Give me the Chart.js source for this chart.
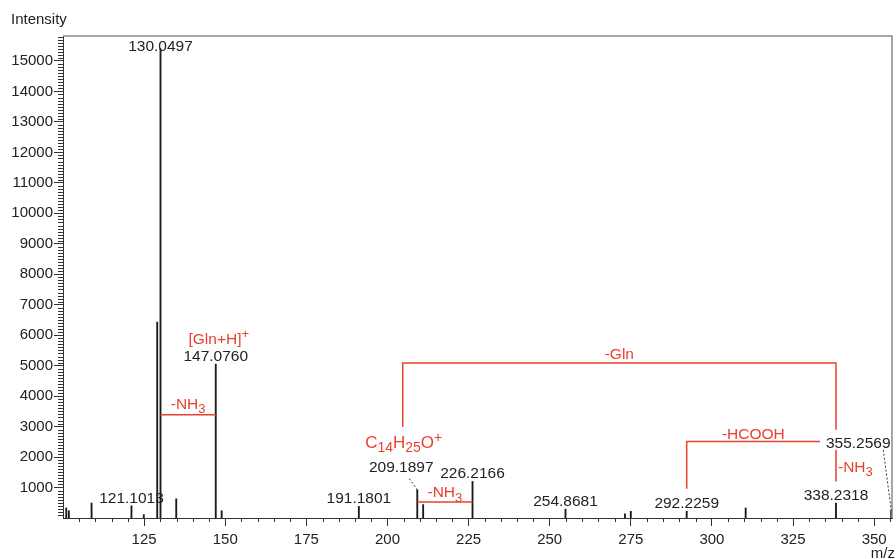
<!DOCTYPE html>
<html>
<head>
<meta charset="utf-8">
<title>MS/MS spectrum</title>
<script src="https://cdn.jsdelivr.net/npm/chart.js@4.4.0/dist/chart.umd.min.js"></script>
<style>
  html, body { margin: 0; padding: 0; background: #ffffff; }
  #wrap { width: 896px; height: 559px; }
</style>
</head>
<body>
<div id="wrap"><canvas id="spectrum" width="896" height="559"></canvas></div>
<script>
// Centroided peak list: m/z and intensity (counts)
const mzValues = [101.0, 101.8, 108.8, 121.1013, 124.9, 129.04, 130.0497, 134.9, 147.0760, 148.9,
                  191.1801, 209.1897, 211.0, 226.2166, 254.8681, 273.2, 275.0, 292.2259, 310.4,
                  338.2318, 355.2569];
const intensities = [330, 240, 490, 400, 110, 6430, 15410, 630, 5050, 240,
                     380, 930, 440, 1200, 290, 140, 220, 220, 330,
                     490, 270];

// Peaks that carry an m/z label
const labeledPeaks = [130.0497, 147.0760, 121.1013, 191.1801, 209.1897, 226.2166,
                      254.8681, 292.2259, 338.2318, 355.2569];

// Axis tick labels
const xTickLabels = [125, 150, 175, 200, 225, 250, 275, 300, 325, 350];
const yTickLabels = [1000, 2000, 3000, 4000, 5000, 6000, 7000, 8000, 9000, 10000,
                     11000, 12000, 13000, 14000, 15000];

const FONT = "'Liberation Sans', Arial, Helvetica, sans-serif";
const RED = '#e8412e';
const INK = '#1a1a1a';
const AXIS = '#333333';

function intensityOf(mz) {
  return intensities[mzValues.indexOf(mz)];
}

// Draws text made of normal / subscript / superscript runs
function richText(ctx, runs, x, y, align, size, subSize) {
  const main = size || 15.5;
  const small = subSize || 13;
  let width = 0;
  runs.forEach(r => {
    ctx.font = (r[1] ? small : main) + 'px ' + FONT;
    width += ctx.measureText(r[0]).width;
  });
  let cx = align === 'center' ? x - width / 2 : (align === 'right' ? x - width : x);
  ctx.textAlign = 'left';
  ctx.textBaseline = 'alphabetic';
  runs.forEach(r => {
    ctx.font = (r[1] ? small : main) + 'px ' + FONT;
    let dy = 0;
    if (r[1] === 'sub') dy = 4.5;
    if (r[1] === 'sup') dy = -6;
    ctx.fillText(r[0], cx, y + dy);
    cx += ctx.measureText(r[0]).width;
  });
}

function polyline(ctx, pts) {
  ctx.beginPath();
  pts.forEach((p, i) => i ? ctx.lineTo(p[0], p[1]) : ctx.moveTo(p[0], p[1]));
  ctx.stroke();
}

const spectrumDecor = {
  id: 'spectrumDecor',
  afterDatasetsDraw(chart) {
    const ctx = chart.ctx;
    const xs = chart.scales.x, ys = chart.scales.y;
    const area = chart.chartArea;
    const P = (mz, h) => [xs.getPixelForValue(mz), ys.getPixelForValue(h)];
    ctx.save();

    // frame: top and right edges
    ctx.strokeStyle = '#8a8a8a';
    ctx.lineWidth = 1.5;
    polyline(ctx, [[area.left, area.top], [area.right, area.top], [area.right, area.bottom]]);

    // minor ticks
    ctx.strokeStyle = AXIS;
    ctx.lineWidth = 1;
    for (let v = 105; v < xs.max; v += 5) {
      if (v % 25 === 0) continue;
      const px = Math.round(xs.getPixelForValue(v)) + 0.5;
      polyline(ctx, [[px, area.bottom], [px, area.bottom + 4]]);
    }
    for (let v = 100; v < ys.max; v += 100) {
      if (v % 1000 === 0) continue;
      const py = Math.round(ys.getPixelForValue(v)) + 0.5;
      polyline(ctx, [[area.left - 5, py], [area.left, py]]);
    }

    // axis titles
    ctx.fillStyle = '#222';
    ctx.font = '15px ' + FONT;
    ctx.textAlign = 'left';
    ctx.textBaseline = 'alphabetic';
    ctx.fillText('Intensity', 11, 24);
    ctx.textAlign = 'right';
    ctx.fillText('m/z', 895, 558);

    // peak m/z labels
    const labelShift = {
      '130.0497': { dx: 0, dy: 3 },
      '209.1897': { dx: -16, dy: -18, leader: [-8, 7] },
      '355.2569': { dx: -33, dy: -62, leader: [-8, 2] }
    };
    const labelBase = {};
    labeledPeaks.forEach(mz => {
      const [px, py] = P(mz, intensityOf(mz));
      const txt = mz.toFixed(4);
      const s = labelShift[txt] || { dx: 0, dy: -3 };
      const lx = px + s.dx, ly = py + s.dy;
      ctx.fillStyle = '#222';
      ctx.font = '15.5px ' + FONT;
      ctx.textAlign = 'center';
      ctx.textBaseline = 'alphabetic';
      ctx.fillText(txt, lx, ly);
      labelBase[txt] = [lx, ly];
      if (s.leader) {
        ctx.strokeStyle = '#333';
        ctx.lineWidth = 1;
        ctx.setLineDash([2, 2]);
        polyline(ctx, [[px + s.leader[0], ly + s.leader[1]], [px, py]]);
        ctx.setLineDash([]);
      }
    });

    // fragment annotations
    ctx.strokeStyle = RED;
    ctx.fillStyle = RED;
    ctx.lineWidth = 1.5;

    // [Gln+H]+ over the protonated glutamine peak
    const gq = labelBase['147.0760'];
    richText(ctx, [['[Gln+H]'], ['+', 'sup']], gq[0] + 3, gq[1] - 17, 'center');

    // -NH3 : 147.0760 -> 130.0497
    let a = P(130.0497, 3390), b = P(147.0760, 3390);
    polyline(ctx, [a, b]);
    richText(ctx, [['-NH'], ['3', 'sub']], (a[0] + b[0]) / 2, a[1] - 6, 'center');

    // -Gln : 338.2318 -> C14H25O+
    const g1 = P(204.7, 2990), g2 = P(204.7, 5090), g3 = P(338.2318, 5090), g4 = P(338.2318, 2900);
    polyline(ctx, [g1, g2, g3, g4]);
    richText(ctx, [['-Gln']], (g2[0] + g3[0]) / 2, g2[1] - 4, 'center');
    richText(ctx, [['C'], ['14', 'sub'], ['H'], ['25', 'sub'], ['O'], ['+', 'sup']],
             g1[0] + 1, g1[1] + 21, 'center', 17, 14);

    // -HCOOH : 355.2569 -> 292.2259
    const h1 = P(292.2259, 960), h2 = P(292.2259, 2510), h3 = P(333.3, 2510);
    polyline(ctx, [h1, h2, h3]);
    richText(ctx, [['-HCOOH']], (h2[0] + h3[0]) / 2, h2[1] - 3, 'center');

    // -NH3 : 355.2569 -> 338.2318
    const n1 = P(338.2318, 2240), n2 = P(338.2318, 1200);
    polyline(ctx, [n1, n2]);
    richText(ctx, [['-NH'], ['3', 'sub']], n1[0] + 2, (n1[1] + n2[1]) / 2 + 6, 'left');

    // -NH3 : 226.2166 -> 209.1897
    a = P(209.1897, 525); b = P(226.2166, 525);
    polyline(ctx, [a, b]);
    richText(ctx, [['-NH'], ['3', 'sub']], (a[0] + b[0]) / 2, a[1] - 5, 'center');

    ctx.restore();
  }
};

new Chart(document.getElementById('spectrum'), {
  type: 'bar',
  data: {
    datasets: [{
      data: mzValues.map((m, i) => ({ x: m, y: intensities[i] })),
      backgroundColor: INK,
      borderWidth: 0,
      barThickness: 1.2
    }]
  },
  options: {
    responsive: false,
    animation: false,
    devicePixelRatio: 1,
    layout: { padding: { top: 36, right: 4, left: 0, bottom: 0 } },
    plugins: { legend: { display: false }, tooltip: { enabled: false } },
    scales: {
      x: {
        type: 'linear',
        min: 100,
        max: 355.5,
        offset: false,
        grid: {
          offset: false,
          drawOnChartArea: false,
          drawTicks: true,
          tickLength: 8,
          tickColor: AXIS
        },
        border: { display: true, color: AXIS, width: 1 },
        ticks: {
          autoSkip: false,
          maxRotation: 0,
          padding: 5,
          color: '#222',
          font: { family: FONT, size: 15 },
          callback: v => String(v)
        },
        afterBuildTicks: s => { s.ticks = xTickLabels.map(v => ({ value: v })); },
        afterFit: s => { s.height = 41; }
      },
      y: {
        type: 'linear',
        min: 0,
        max: 15820,
        grid: {
          drawOnChartArea: false,
          drawTicks: true,
          tickLength: 9,
          tickColor: AXIS
        },
        border: { display: true, color: AXIS, width: 1 },
        ticks: {
          autoSkip: false,
          padding: 1,
          color: '#222',
          font: { family: FONT, size: 15 },
          callback: v => String(v)
        },
        afterBuildTicks: s => { s.ticks = yTickLabels.map(v => ({ value: v })); },
        afterFit: s => { s.width = 63; }
      }
    }
  },
  plugins: [spectrumDecor]
});
</script>
</body>
</html>
